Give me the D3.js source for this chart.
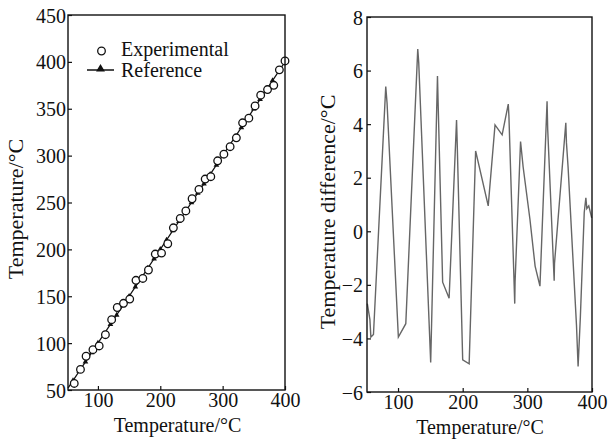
<!DOCTYPE html>
<html><head><meta charset="utf-8">
<script src="https://cdn.jsdelivr.net/npm/d3@7/dist/d3.min.js"></script>
<style>
body{margin:0;background:#fff;}
svg{display:block;font-family:"Liberation Serif","Times New Roman",serif;}
</style></head>
<body>
<script>
// ---- Left chart data ----
const expT = [62,72,81,92,102,112,122,131,141,151,161,172,181,192,202,212,221,232,241,251,262,272,281,292,302,312,322,332,342,352,361,372,382,391,400];
const expV = [57,72,86,93,97,109,125,138,142.5,147,167,169,178,195,196,206,223,233,241,254,264,275,277.5,294.5,301.5,309.5,319,335,340,353,364.5,370.5,375,391.5,401];
const refT = [52,60,70,80,90,100,110,120,130,140,150,160,170,180,190,200,210,220,230,240,250,260,270,280,290,300,310,320,330,340,350,360,370,380,390,400];
const refV = [52,60,70,80,90,100,110,120,130,140,150,160,170,180,190,200,210,220,230,240,250,260,270,280,290,300,310,320,330,340,350,360,370,380,390,400];
const leftXTicks = [100,200,300,400];
const leftYTicks = [50,100,150,200,250,300,350,400,450];
const legendLabels = ["Experimental","Reference"];

// ---- Right chart data ----
const diffT = [52.5,56.5,58,62,81,83,100.5,112,130.5,132,150.5,161,162,169,179,190.5,191.5,200,210,220,239.5,250,261,270.5,271.5,280.5,281,289.5,293.5,304,312,319.5,330.5,331.5,341.5,342,359.5,360.5,363,376,378.5,382,388,390.5,392,395,399.5];
const diffV = [-2.7,-3.3,-3.95,-3.85,5.4,4.8,-3.95,-3.45,6.8,6.3,-4.9,5.8,4.8,-1.9,-2.5,4.15,3.3,-4.8,-4.95,3.0,0.95,3.97,3.6,4.75,4.3,-2.7,-1.9,3.35,2.4,0.45,-1.3,-2.05,4.85,3.8,-1.85,-1.2,4.05,3.3,2.4,-3.5,-5.05,-3.2,0.7,1.25,0.85,0.95,0.5];
const rightXTicks = [100,200,300,400];
const rightYTicks = [-6,-4,-2,0,2,4,6,8];

const axisTitleX = "Temperature/°C";
const leftYTitle = "Temperature/°C";
const rightYTitle = "Temperature difference/°C";

const W = 610, H = 441;
const svg = d3.select("body").append("svg").attr("width", W).attr("height", H);
const FS = 20;
const FSY = 22;

function frame(g, x0, y0, w, h){
  g.append("rect").attr("x",x0).attr("y",y0).attr("width",w).attr("height",h)
    .attr("fill","none").attr("stroke","#111").attr("stroke-width",1.4);
}
function styleAxis(a){
  a.select(".domain").remove();
  a.selectAll("line").attr("stroke","#111").attr("stroke-width",1.2);
  a.selectAll("text").attr("font-family","Liberation Serif").attr("font-size",FS).attr("fill","#111");
}

// ===== Left chart =====
const L = {l:68, r:285, t:15, b:390};
const xL = d3.scaleLinear().domain([52,400]).range([L.l, L.r]);
const yL = d3.scaleLinear().domain([50,450]).range([L.b, L.t]);
const gL = svg.append("g");

const axL = gL.append("g").attr("transform",`translate(0,${L.b})`)
  .call(d3.axisBottom(xL).tickValues(leftXTicks).tickSize(-4).tickFormat(d3.format("d")));
const ayL = gL.append("g").attr("transform",`translate(${L.l},0)`)
  .call(d3.axisLeft(yL).tickValues(leftYTicks).tickSize(-4).tickPadding(2).tickFormat(d3.format("d")));
styleAxis(axL); styleAxis(ayL);
axL.selectAll("text").attr("y",17).attr("dy",0);
ayL.selectAll("text").attr("dy","0.35em");

// reference line
gL.append("path").datum(refT.map((t,i)=>[t,refV[i]]))
  .attr("d", d3.line().x(d=>xL(d[0])).y(d=>yL(d[1])))
  .attr("fill","none").attr("stroke","#111").attr("stroke-width",1.3);
const tri = d3.symbol().type(d3.symbolTriangle).size(14);
gL.selectAll("path.tri").data(refT.slice(1).map((t,i)=>[t,refV[i+1]])).join("path")
  .attr("class","tri").attr("d",tri)
  .attr("transform",d=>`translate(${xL(d[0])},${yL(d[1])})`).attr("fill","#111");
// experimental circles
gL.selectAll("circle.exp").data(expT.map((t,i)=>[t,expV[i]])).join("circle")
  .attr("class","exp").attr("cx",d=>xL(d[0])).attr("cy",d=>yL(d[1])).attr("r",3.8)
  .attr("fill","#fff").attr("stroke","#111").attr("stroke-width",1.3);
frame(gL, L.l, L.t, L.r-L.l, L.b-L.t);

// legend
gL.append("circle").attr("cx",101.5).attr("cy",51).attr("r",3.8)
  .attr("fill","none").attr("stroke","#111").attr("stroke-width",1.3);
gL.append("text").attr("x",121).attr("y",56).attr("font-size",FS).attr("fill","#111").text(legendLabels[0]);
gL.append("line").attr("x1",87).attr("x2",114).attr("y1",70).attr("y2",70).attr("stroke","#111").attr("stroke-width",1.5);
gL.append("path").attr("d",d3.symbol().type(d3.symbolTriangle).size(34)).attr("transform","translate(100.5,69)").attr("fill","#111");
gL.append("text").attr("x",121).attr("y",77).attr("font-size",FS).attr("fill","#111").text(legendLabels[1]);

// titles
gL.append("text").attr("x",177.5).attr("y",432).attr("text-anchor","middle").attr("font-size",FS).attr("fill","#111").text(axisTitleX);
gL.append("text").attr("transform","translate(23,209) rotate(-90)").attr("text-anchor","middle").attr("font-size",FSY).attr("fill","#111").text(leftYTitle);

// ===== Right chart =====
const R = {l:367, r:592, t:17, b:392};
const xR = d3.scaleLinear().domain([52,400]).range([R.l, R.r]);
const yR = d3.scaleLinear().domain([-6,8]).range([R.b, R.t]);
const gR = svg.append("g");
const axR = gR.append("g").attr("transform",`translate(0,${R.b})`)
  .call(d3.axisBottom(xR).tickValues(rightXTicks).tickSize(-4).tickFormat(d3.format("d")));
const ayR = gR.append("g").attr("transform",`translate(${R.l},0)`)
  .call(d3.axisLeft(yR).tickValues(rightYTicks).tickSize(-4).tickPadding(4).tickFormat(d3.format("d")));
styleAxis(axR); styleAxis(ayR);
axR.selectAll("text").attr("y",17).attr("dy",0);
ayR.selectAll("text").attr("dy","0.35em");

gR.append("path").datum(diffT.map((t,i)=>[t,diffV[i]]))
  .attr("d", d3.line().x(d=>xR(d[0])).y(d=>yR(d[1])))
  .attr("fill","none").attr("stroke","#666").attr("stroke-width",1.4).attr("stroke-linejoin","miter");
frame(gR, R.l, R.t, R.r-R.l, R.b-R.t);

gR.append("text").attr("x",480).attr("y",434).attr("text-anchor","middle").attr("font-size",FS).attr("fill","#111").text(axisTitleX);
gR.append("text").attr("transform","translate(335,212) rotate(-90)").attr("text-anchor","middle").attr("font-size",FSY).attr("fill","#111").text(rightYTitle);
</script>
</body></html>
